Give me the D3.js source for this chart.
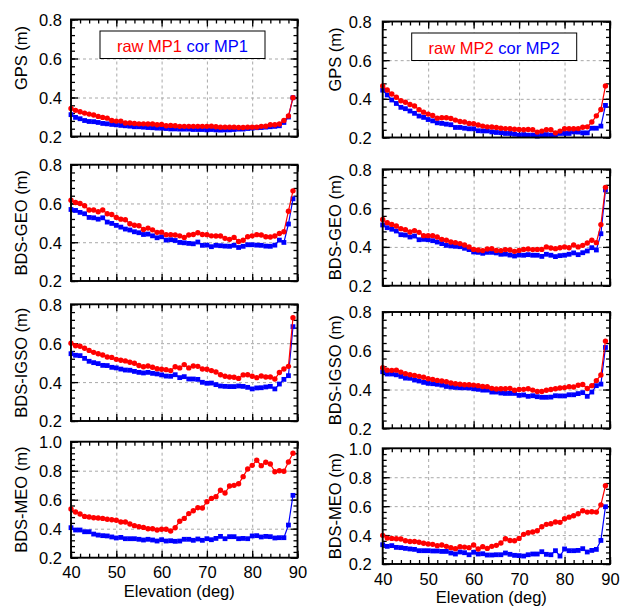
<!DOCTYPE html>
<html>
<head>
<meta charset="utf-8">
<script src="https://cdn.jsdelivr.net/npm/d3@7"></script>
<style>
  html, body { margin: 0; padding: 0; background: #fff; }
  svg { display: block; font-family: "Liberation Sans", Arial, Helvetica, sans-serif; }
</style>
</head>
<body>
<svg id="chart" width="621" height="606"></svg>
<script>
// Elevation bins (deg)
const elevation = [40,41,42,43,44,45,46,47,48,49,50,51,52,53,54,55,56,57,58,59,
  60,61,62,63,64,65,66,67,68,69,70,71,72,73,74,75,76,77,78,79,
  80,81,82,83,84,85,86,87,88,89];

// Multipath RMS (m), raw and corrected, MP1 and MP2
const gpsRawMP1 = [0.344,0.334,0.327,0.320,0.315,0.310,0.303,0.298,0.294,0.282,
  0.279,0.279,0.269,0.269,0.267,0.265,0.265,0.264,0.264,0.260,
  0.262,0.255,0.257,0.255,0.252,0.252,0.252,0.252,0.252,0.252,
  0.252,0.253,0.250,0.248,0.248,0.248,0.248,0.246,0.246,0.248,
  0.248,0.248,0.252,0.253,0.260,0.260,0.264,0.282,0.305,0.399];
const gpsCorMP1 = [0.312,0.298,0.291,0.282,0.277,0.276,0.272,0.267,0.265,0.262,
  0.260,0.257,0.255,0.253,0.250,0.250,0.248,0.246,0.245,0.243,
  0.243,0.241,0.239,0.239,0.238,0.238,0.238,0.236,0.236,0.236,
  0.234,0.236,0.234,0.233,0.234,0.234,0.236,0.238,0.238,0.241,
  0.243,0.245,0.246,0.248,0.250,0.252,0.255,0.272,0.300,0.399];
const gpsRawMP2 = [0.466,0.446,0.425,0.408,0.390,0.382,0.371,0.363,0.344,0.331,
  0.321,0.314,0.300,0.302,0.302,0.298,0.290,0.283,0.280,0.273,
  0.271,0.265,0.259,0.255,0.254,0.252,0.248,0.246,0.245,0.243,
  0.241,0.240,0.241,0.240,0.228,0.233,0.240,0.240,0.224,0.233,
  0.245,0.245,0.245,0.246,0.253,0.255,0.280,0.312,0.345,0.466];
const gpsCorMP2 = [0.445,0.420,0.394,0.376,0.356,0.349,0.337,0.325,0.311,0.304,
  0.293,0.286,0.276,0.273,0.269,0.266,0.252,0.252,0.248,0.245,
  0.245,0.235,0.234,0.234,0.229,0.226,0.225,0.221,0.221,0.217,
  0.212,0.215,0.212,0.212,0.207,0.212,0.215,0.212,0.212,0.221,
  0.221,0.221,0.229,0.228,0.224,0.224,0.248,0.248,0.259,0.366];

const geoRawMP1 = [0.617,0.605,0.600,0.588,0.566,0.566,0.557,0.566,0.547,0.543,
  0.528,0.519,0.516,0.495,0.488,0.485,0.466,0.473,0.464,0.451,
  0.452,0.439,0.439,0.437,0.433,0.425,0.437,0.440,0.449,0.440,
  0.439,0.433,0.432,0.432,0.420,0.415,0.425,0.404,0.410,0.428,
  0.433,0.439,0.437,0.428,0.427,0.432,0.445,0.454,0.560,0.665];
const geoCorMP1 = [0.569,0.564,0.554,0.547,0.528,0.526,0.519,0.526,0.504,0.497,
  0.487,0.478,0.468,0.463,0.454,0.449,0.440,0.442,0.433,0.423,
  0.428,0.411,0.413,0.409,0.399,0.397,0.394,0.392,0.401,0.384,
  0.385,0.377,0.384,0.382,0.380,0.379,0.384,0.373,0.379,0.387,
  0.387,0.385,0.384,0.380,0.379,0.385,0.411,0.399,0.494,0.624];
const geoRawMP2 = [0.541,0.525,0.516,0.508,0.494,0.489,0.477,0.484,0.475,0.458,
  0.458,0.458,0.451,0.439,0.434,0.425,0.422,0.417,0.410,0.400,
  0.387,0.384,0.381,0.389,0.391,0.382,0.381,0.386,0.384,0.377,
  0.382,0.387,0.389,0.386,0.387,0.387,0.400,0.394,0.391,0.396,
  0.400,0.396,0.410,0.400,0.408,0.420,0.434,0.422,0.515,0.707];
const geoCorMP2 = [0.513,0.499,0.491,0.482,0.463,0.461,0.451,0.456,0.437,0.439,
  0.437,0.432,0.425,0.417,0.408,0.405,0.403,0.401,0.393,0.386,
  0.374,0.372,0.367,0.372,0.372,0.369,0.362,0.363,0.358,0.353,
  0.358,0.357,0.360,0.357,0.357,0.351,0.362,0.357,0.350,0.355,
  0.357,0.362,0.369,0.360,0.370,0.379,0.396,0.384,0.468,0.694];

const igsoRawMP1 = [0.600,0.587,0.584,0.574,0.563,0.553,0.546,0.539,0.529,0.527,
  0.517,0.512,0.509,0.502,0.497,0.485,0.479,0.483,0.476,0.469,
  0.466,0.464,0.459,0.479,0.473,0.490,0.473,0.483,0.481,0.467,
  0.466,0.459,0.452,0.438,0.430,0.426,0.425,0.419,0.437,0.438,
  0.430,0.423,0.431,0.426,0.426,0.416,0.449,0.467,0.481,0.731];
const igsoCorMP1 = [0.546,0.538,0.536,0.522,0.507,0.500,0.495,0.486,0.485,0.476,
  0.473,0.467,0.462,0.461,0.455,0.450,0.447,0.450,0.445,0.442,
  0.437,0.431,0.430,0.438,0.423,0.428,0.416,0.416,0.414,0.399,
  0.394,0.395,0.387,0.380,0.378,0.377,0.377,0.380,0.378,0.373,
  0.365,0.370,0.371,0.375,0.378,0.365,0.390,0.414,0.433,0.685];
const igsoRawMP2 = [0.512,0.500,0.499,0.500,0.490,0.482,0.476,0.473,0.468,0.463,
  0.456,0.452,0.447,0.444,0.440,0.434,0.430,0.427,0.425,0.425,
  0.423,0.420,0.416,0.415,0.406,0.403,0.404,0.404,0.406,0.396,
  0.400,0.401,0.404,0.397,0.390,0.390,0.396,0.400,0.404,0.408,
  0.410,0.415,0.413,0.422,0.426,0.405,0.420,0.446,0.475,0.650];
const igsoCorMP2 = [0.492,0.480,0.480,0.476,0.468,0.459,0.458,0.449,0.444,0.437,
  0.432,0.430,0.427,0.423,0.416,0.413,0.411,0.409,0.409,0.408,
  0.404,0.401,0.397,0.397,0.387,0.387,0.382,0.380,0.380,0.380,
  0.370,0.372,0.365,0.368,0.363,0.360,0.360,0.361,0.368,0.367,
  0.367,0.373,0.373,0.379,0.384,0.365,0.387,0.420,0.428,0.617];

const meoRawMP1 = [0.536,0.515,0.501,0.485,0.481,0.476,0.474,0.471,0.465,0.462,
  0.458,0.446,0.446,0.432,0.421,0.414,0.409,0.400,0.400,0.391,
  0.396,0.396,0.384,0.407,0.451,0.471,0.504,0.524,0.545,0.543,
  0.586,0.609,0.621,0.665,0.646,0.694,0.699,0.710,0.759,0.812,
  0.837,0.872,0.835,0.858,0.846,0.793,0.800,0.796,0.860,0.920];
const meoCorMP1 = [0.407,0.391,0.391,0.379,0.379,0.363,0.356,0.352,0.350,0.343,
  0.336,0.340,0.331,0.331,0.331,0.327,0.322,0.327,0.322,0.315,
  0.324,0.315,0.317,0.313,0.315,0.327,0.327,0.320,0.329,0.320,
  0.331,0.324,0.333,0.347,0.331,0.345,0.345,0.331,0.333,0.331,
  0.350,0.352,0.343,0.347,0.345,0.336,0.338,0.338,0.425,0.630];
const meoRawMP2 = [0.398,0.379,0.377,0.375,0.373,0.361,0.356,0.356,0.350,0.343,
  0.338,0.336,0.327,0.331,0.322,0.313,0.306,0.320,0.317,0.313,
  0.331,0.304,0.320,0.308,0.322,0.329,0.345,0.375,0.363,0.361,
  0.377,0.405,0.416,0.421,0.430,0.458,0.474,0.478,0.490,0.488,
  0.513,0.524,0.534,0.547,0.568,0.559,0.561,0.559,0.609,0.741];
const meoCorMP2 = [0.333,0.322,0.327,0.315,0.313,0.308,0.304,0.301,0.292,0.292,
  0.292,0.290,0.290,0.287,0.287,0.276,0.269,0.283,0.278,0.264,
  0.281,0.269,0.271,0.262,0.262,0.264,0.264,0.276,0.267,0.260,
  0.258,0.255,0.264,0.269,0.269,0.285,0.267,0.264,0.292,0.255,
  0.304,0.292,0.292,0.294,0.306,0.283,0.294,0.301,0.363,0.596];

// Axis labels and tick values
const yLabels = ["GPS (m)", "BDS-GEO (m)", "BDS-IGSO (m)", "BDS-MEO (m)"];
const legendRaw = ["raw MP1", "raw MP2"];
const legendCor = ["cor MP1", "cor MP2"];
const xTicks = [40, 50, 60, 70, 80, 90];
const xTitle = "Elevation (deg)";
const yMaxByRow = [0.8, 0.8, 0.8, 1.0];

// Series table: rows = systems, columns = MP1 / MP2
const rawSeries = [[gpsRawMP1, gpsRawMP2], [geoRawMP1, geoRawMP2], [igsoRawMP1, igsoRawMP2], [meoRawMP1, meoRawMP2]];
const corSeries = [[gpsCorMP1, gpsCorMP2], [geoCorMP1, geoCorMP2], [igsoCorMP1, igsoCorMP2], [meoCorMP1, meoCorMP2]];

// Panel frames in page pixels
const colX = [[71, 297.5], [382.7, 610]];
const rowY = [
  [[19.5, 136.5], [164.7, 281], [304.3, 421], [441.7, 557.7]],
  [[21.5, 137.5], [169.3, 285.7], [312, 428.3], [448.3, 564]]
];
// bottom-row x tick label padding and title offset per column
const xLabelPad = [9, 8.8];
const xTitleOffset = [39, 39];

const RED = "#ff0000", BLUE = "#0000ff";
const FONT = 16.5;
const svg = d3.select("#chart");

for (let c = 0; c < 2; c++) {
  for (let r = 0; r < 4; r++) {
    const [x0, x1] = colX[c];
    const [y0, y1] = rowY[c][r];
    const w = x1 - x0, h = y1 - y0;
    const yMax = yMaxByRow[r];
    const x = d3.scaleLinear().domain([40, 90]).range([0, w]);
    const y = d3.scaleLinear().domain([0.2, yMax]).range([h, 0]);
    const g = svg.append("g").attr("transform", `translate(${x0},${y0})`);

    const yMajor = d3.range(0.2, yMax + 0.001, 0.2).map(v => +v.toFixed(1));
    const yMinor = d3.range(0.2, yMax + 0.001, 0.04).map(v => +v.toFixed(2));
    const xMinor = d3.range(40, 90.001, 2);

    // dashed grid at interior major ticks
    g.append("g").attr("transform", `translate(0,${h})`)
      .call(d3.axisBottom(x).tickValues(xTicks.slice(1, -1)).tickSize(-h).tickFormat(""))
      .call(s => s.select(".domain").remove())
      .call(s => s.selectAll("line").attr("stroke", "#a8a8a8").attr("stroke-width", 1).attr("stroke-dasharray", "3,3"));
    g.append("g")
      .call(d3.axisLeft(y).tickValues(yMajor.slice(1, -1)).tickSize(-w).tickFormat(""))
      .call(s => s.select(".domain").remove())
      .call(s => s.selectAll("line").attr("stroke", "#a8a8a8").attr("stroke-width", 1).attr("stroke-dasharray", "3,3"));

    // inward ticks on all four sides
    const tickAxes = [
      [d3.axisBottom(x), `translate(0,${h})`, xMinor, xTicks],
      [d3.axisTop(x), null, xMinor, xTicks],
      [d3.axisLeft(y), null, yMinor, yMajor],
      [d3.axisRight(y), `translate(${w},0)`, yMinor, yMajor]
    ];
    tickAxes.forEach(([ax, tr, minor, major]) => {
      const a1 = g.append("g").call(ax.tickValues(minor).tickSizeInner(-4).tickSizeOuter(0).tickFormat(""));
      const a2 = g.append("g").call(ax.tickValues(major).tickSizeInner(-7).tickSizeOuter(0).tickFormat(""));
      [a1, a2].forEach(a => {
        if (tr) a.attr("transform", tr);
        a.select(".domain").remove();
        a.selectAll("line").attr("stroke", "#000").attr("stroke-width", 1.3);
      });
    });

    // y tick labels
    g.append("g")
      .call(d3.axisLeft(y).tickValues(yMajor).tickSize(0).tickPadding(c === 0 ? 9 : 11).tickFormat(d3.format(".1f")))
      .call(s => s.select(".domain").remove())
      .call(s => s.selectAll("text").attr("font-size", FONT).attr("fill", "#000")
        .attr("font-family", "'Liberation Sans', Arial, sans-serif").attr("dy", "0.36em"));

    // x tick labels and title on bottom row
    if (r === 3) {
      g.append("g").attr("transform", `translate(0,${h})`)
        .call(d3.axisBottom(x).tickValues(xTicks).tickSize(0).tickPadding(xLabelPad[c]).tickFormat(d3.format("d")))
        .call(s => s.select(".domain").remove())
        .call(s => s.selectAll("text").attr("font-size", FONT).attr("fill", "#000")
          .attr("font-family", "'Liberation Sans', Arial, sans-serif"));
      g.append("text")
        .attr("x", w / 2 - 5).attr("y", h + xTitleOffset[c])
        .attr("text-anchor", "middle").attr("font-size", FONT).text(xTitle);
    }

    // y axis title
    const labelX = c === 0 ? 21 - x0 : 335 - x0;
    const labelY = r === 0 ? h / 2 - 20 : h / 2;
    g.append("text")
      .attr("transform", `translate(${labelX + 6},${labelY}) rotate(-90)`)
      .attr("text-anchor", "middle").attr("font-size", FONT).text(yLabels[r]);

    // series: corrected underneath, raw on top
    const line = d3.line().x((d, i) => x(elevation[i])).y(d => y(d));
    const cor = corSeries[r][c], raw = rawSeries[r][c];
    g.append("path").datum(cor).attr("d", line).attr("fill", "none").attr("stroke", BLUE).attr("stroke-width", 1.2);
    g.append("g").selectAll("rect").data(cor).join("rect")
      .attr("x", (d, i) => x(elevation[i]) - 2.4).attr("y", d => y(d) - 2.4)
      .attr("width", 4.8).attr("height", 4.8).attr("fill", BLUE);
    g.append("path").datum(raw).attr("d", line).attr("fill", "none").attr("stroke", RED).attr("stroke-width", 1.2);
    g.append("g").selectAll("circle").data(raw).join("circle")
      .attr("cx", (d, i) => x(elevation[i])).attr("cy", d => y(d)).attr("r", 2.7).attr("fill", RED);

    // frame
    g.append("rect").attr("width", w).attr("height", h)
      .attr("fill", "none").attr("stroke", "#000").attr("stroke-width", 1.9);

    // legend on top row
    if (r === 0) {
      const lx = c === 0 ? 100 - x0 : 411.7 - x0;
      const ly = c === 0 ? 31 - y0 : 33 - y0;
      const lw = 165, lh = 27.5;
      g.append("rect").attr("x", lx).attr("y", ly).attr("width", lw).attr("height", lh)
        .attr("fill", "#fff").attr("stroke", "#000").attr("stroke-width", 1);
      const t = g.append("text").attr("x", lx + lw / 2).attr("y", ly + 20.5)
        .attr("text-anchor", "middle").attr("font-size", FONT);
      t.append("tspan").attr("fill", RED).text(legendRaw[c]);
      t.append("tspan").attr("fill", BLUE).text(" " + legendCor[c]);
    }
  }
}
</script>
</body>
</html>
